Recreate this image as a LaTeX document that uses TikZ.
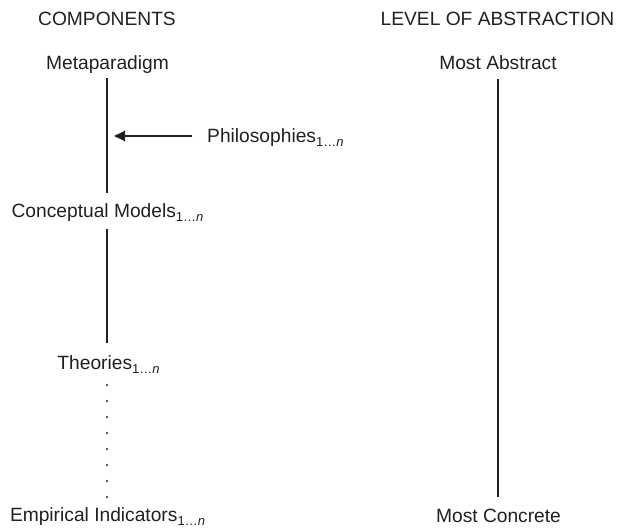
\documentclass[tikz,border=0pt]{standalone}
\usepackage{fontspec}
\setmainfont{Liberation Sans}
\usetikzlibrary{arrows.meta}
\definecolor{ink}{HTML}{231F20}
\newcommand{\subn}{{\fontsize{13}{13}\selectfont\raisebox{-4.5pt}{1\ldots\textit{n}}}}
\begin{document}
\begin{tikzpicture}[x=1pt,y=-1pt,
  lbl/.style={anchor=base, inner sep=0pt, text=ink, font=\fontsize{19.2}{22}\selectfont},
  conn/.style={draw=ink, line width=2pt},
  arr/.style={draw=ink, line width=1.8pt, -{Triangle[length=11pt,width=10pt]}},
  dotmark/.style={circle, fill=ink, inner sep=0pt, minimum size=2.2pt}]
\useasboundingbox (0,0) rectangle (617,527);
% headings
\node[lbl] (comp) at (107,26) {COMPONENTS};
\node[lbl] (level) at (497.5,26) {LEVEL OF ABSTRACTION};
% left column
\node[lbl] (meta) at (107.5,69) {Metaparadigm};
\node[lbl] (cm) at (107.5,217) {Conceptual Models\subn};
\node[lbl] (theo) at (108.5,369) {Theories\subn};
\node[lbl] (emp) at (107.5,521) {Empirical Indicators\subn};
\node[lbl, anchor=base west] (phil) at (207,142) {Philosophies\subn};
% right column
\node[lbl] (abs) at (498,69) {Most Abstract};
\node[lbl] (conc) at (498.5,522) {Most Concrete};
% connector coordinates
\coordinate (m1) at (107,78);
\coordinate (m2) at (107,193);
\coordinate (c1) at (107,229);
\coordinate (c2) at (107,343);
\coordinate (pa) at (192,136);
\coordinate (pt) at (114,136);
\coordinate (r1) at (498,79);
\coordinate (r2) at (498,497);
\draw[conn] (m1) -- (m2);
\draw[conn] (c1) -- (c2);
\draw[arr] (pa) -- (pt);
\draw[conn] (r1) -- (r2);
% dotted link theories -> empirical indicators
\foreach \i [count=\k] in {385,401,417,433,449,465,481,497}
  \node[dotmark] (d\k) at (107,\i) {};
\end{tikzpicture}
\end{document}
